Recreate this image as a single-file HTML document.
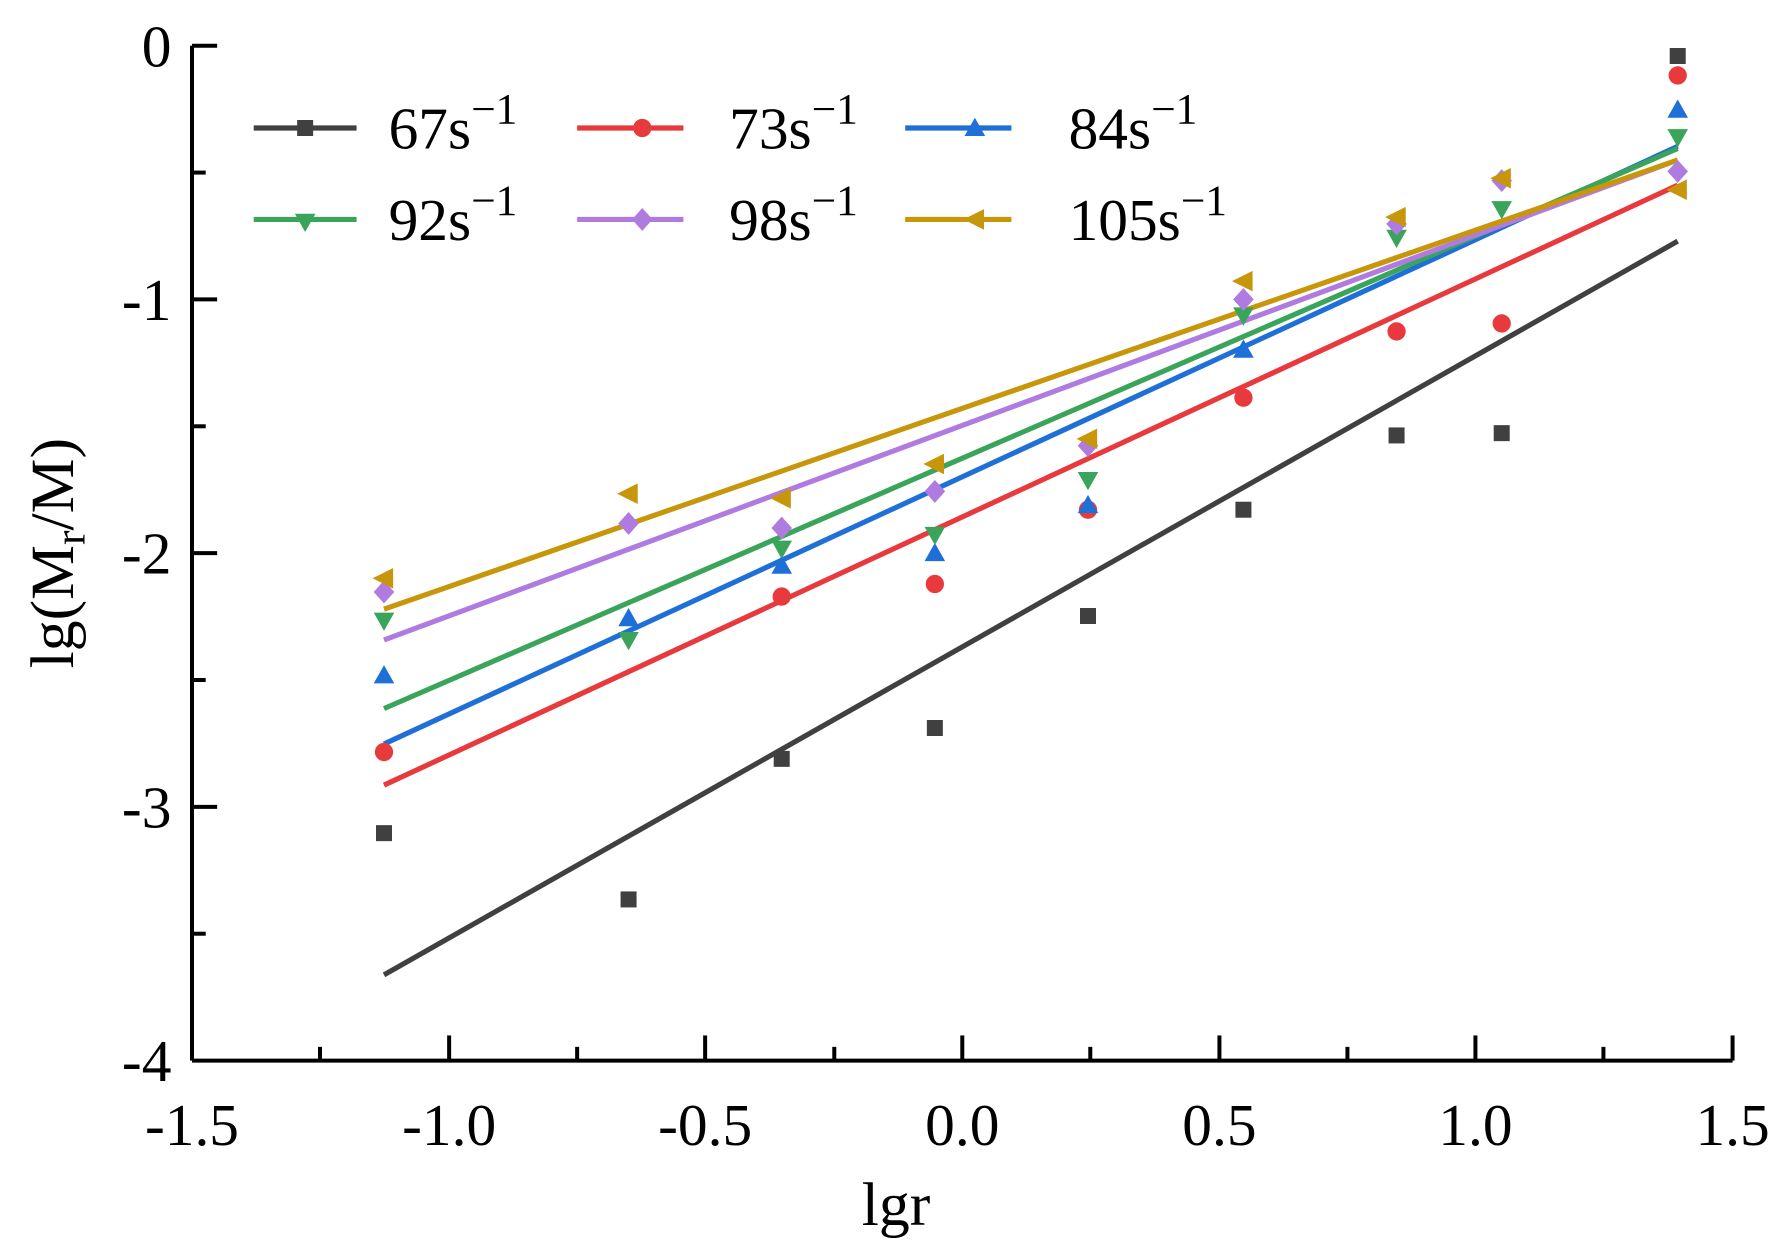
<!DOCTYPE html>
<html><head><meta charset="utf-8"><style>
html,body{margin:0;padding:0;background:#fff;}
svg{display:block;}
text{font-family:"Liberation Serif",serif;fill:#000;}
</style></head><body>
<svg width="1792" height="1260" viewBox="0 0 1568 1102.5" preserveAspectRatio="none" xmlns="http://www.w3.org/2000/svg">
<defs>
<rect id="sq" x="-7" y="-7" width="14" height="14" fill="#404040"/>
<circle id="ci" r="8" fill="#e8393c"/>
<polygon id="tu" points="0,-9 9,7 -9,7" fill="#1f6fd8"/>
<polygon id="td" points="0,9 9,-7 -9,-7" fill="#3aa55a"/>
<polygon id="di" points="0,-10 9,0 0,10 -9,0" fill="#b07be0"/>
<polygon id="tl" points="-10,0 8,-9 8,9" fill="#c8960a"/>
</defs>
<g stroke="#000" stroke-width="3.5" fill="none">
<line x1="168" y1="40" x2="168" y2="928"/>
<line x1="168" y1="928" x2="1516" y2="928"/>
<line x1="168" y1="40" x2="190" y2="40"/>
<line x1="168" y1="262" x2="190" y2="262"/>
<line x1="168" y1="484" x2="190" y2="484"/>
<line x1="168" y1="706" x2="190" y2="706"/>
<line x1="168" y1="151" x2="180" y2="151"/>
<line x1="168" y1="373" x2="180" y2="373"/>
<line x1="168" y1="595" x2="180" y2="595"/>
<line x1="168" y1="817" x2="180" y2="817"/>
<line x1="393" y1="928" x2="393" y2="906"/>
<line x1="617" y1="928" x2="617" y2="906"/>
<line x1="842" y1="928" x2="842" y2="906"/>
<line x1="1067" y1="928" x2="1067" y2="906"/>
<line x1="1291" y1="928" x2="1291" y2="906"/>
<line x1="1516" y1="928" x2="1516" y2="906"/>
<line x1="280" y1="928" x2="280" y2="916"/>
<line x1="505" y1="928" x2="505" y2="916"/>
<line x1="730" y1="928" x2="730" y2="916"/>
<line x1="954" y1="928" x2="954" y2="916"/>
<line x1="1179" y1="928" x2="1179" y2="916"/>
<line x1="1403" y1="928" x2="1403" y2="916"/>
</g>
<g font-size="52" text-anchor="end">
<text x="150" y="58">0</text>
<text x="150" y="280">-1</text>
<text x="150" y="502">-2</text>
<text x="150" y="724">-3</text>
<text x="150" y="946">-4</text>
</g>
<g font-size="52" text-anchor="middle">
<text x="168" y="1002">-1.5</text>
<text x="393" y="1002">-1.0</text>
<text x="617" y="1002">-0.5</text>
<text x="842" y="1002">0.0</text>
<text x="1067" y="1002">0.5</text>
<text x="1291" y="1002">1.0</text>
<text x="1516" y="1002">1.5</text>
<text x="784" y="1072" font-size="54">lgr</text>
</g>
<text transform="translate(64,484) rotate(-90)" font-size="54" text-anchor="middle">lg(M<tspan font-size="38" dy="10">r</tspan><tspan dy="-10">/M)</tspan></text>
<g stroke-width="4.5">
<line x1="336" y1="853" x2="1468" y2="211" stroke="#404040"/>
<line x1="336" y1="687" x2="1468" y2="162" stroke="#e8393c"/>
<line x1="336" y1="651" x2="1468" y2="128" stroke="#1f6fd8"/>
<line x1="336" y1="620" x2="1468" y2="130" stroke="#3aa55a"/>
<line x1="336" y1="560" x2="1468" y2="140" stroke="#b07be0"/>
<line x1="336" y1="533" x2="1468" y2="140" stroke="#c8960a"/>
</g>
<g>
<use href="#sq" x="336" y="729"/><use href="#sq" x="550" y="787"/><use href="#sq" x="684" y="664"/><use href="#sq" x="818" y="637"/><use href="#sq" x="952" y="539"/><use href="#sq" x="1088" y="446"/><use href="#sq" x="1222" y="381"/><use href="#sq" x="1314" y="379"/><use href="#sq" x="1468" y="49"/>
<use href="#ci" x="336" y="658"/><use href="#ci" x="684" y="522"/><use href="#ci" x="818" y="511"/><use href="#ci" x="952" y="446"/><use href="#ci" x="1088" y="348"/><use href="#ci" x="1222" y="290"/><use href="#ci" x="1314" y="283"/><use href="#ci" x="1468" y="66"/>
<use href="#tu" x="336" y="591"/><use href="#tu" x="550" y="541"/><use href="#tu" x="684" y="495"/><use href="#tu" x="818" y="484"/><use href="#tu" x="952" y="442"/><use href="#tu" x="1088" y="306"/><use href="#tu" x="1468" y="96"/>
<use href="#td" x="336" y="543"/><use href="#td" x="550" y="560"/><use href="#td" x="684" y="480"/><use href="#td" x="818" y="468"/><use href="#td" x="952" y="420"/><use href="#td" x="1088" y="276"/><use href="#td" x="1222" y="208"/><use href="#td" x="1314" y="183"/><use href="#td" x="1468" y="120"/>
<use href="#di" x="336" y="518"/><use href="#di" x="550" y="458"/><use href="#di" x="684" y="462"/><use href="#di" x="818" y="430"/><use href="#di" x="952" y="390"/><use href="#di" x="1088" y="262"/><use href="#di" x="1222" y="196"/><use href="#di" x="1314" y="158"/><use href="#di" x="1468" y="150"/>
<use href="#tl" x="336" y="506"/><use href="#tl" x="550" y="432"/><use href="#tl" x="684" y="436"/><use href="#tl" x="818" y="406"/><use href="#tl" x="952" y="384"/><use href="#tl" x="1088" y="246"/><use href="#tl" x="1222" y="190"/><use href="#tl" x="1314" y="156"/><use href="#tl" x="1468" y="166"/>
</g>
<g stroke-width="4.5">
<line x1="222" y1="112" x2="312" y2="112" stroke="#404040"/>
<line x1="505" y1="112" x2="598" y2="112" stroke="#e8393c"/>
<line x1="792" y1="112" x2="885" y2="112" stroke="#1f6fd8"/>
<line x1="222" y1="192" x2="312" y2="192" stroke="#3aa55a"/>
<line x1="505" y1="192" x2="598" y2="192" stroke="#b07be0"/>
<line x1="792" y1="192" x2="885" y2="192" stroke="#c8960a"/>
</g>
<use href="#sq" x="267" y="112"/><use href="#ci" x="562" y="112"/><use href="#tu" x="853" y="112"/>
<use href="#td" x="267" y="194"/><use href="#di" x="562" y="192"/><use href="#tl" x="853" y="192"/>
<g font-size="52">
<text x="340" y="130">67s<tspan font-size="38" dy="-22">−1</tspan></text>
<text x="638" y="130">73s<tspan font-size="38" dy="-22">−1</tspan></text>
<text x="935" y="130">84s<tspan font-size="38" dy="-22">−1</tspan></text>
<text x="340" y="210">92s<tspan font-size="38" dy="-22">−1</tspan></text>
<text x="638" y="210">98s<tspan font-size="38" dy="-22">−1</tspan></text>
<text x="935" y="210">105s<tspan font-size="38" dy="-22">−1</tspan></text>
</g>
</svg>
</body></html>
